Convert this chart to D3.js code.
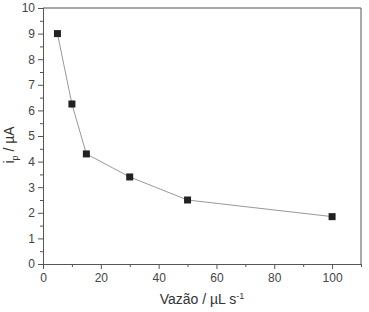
<!DOCTYPE html>
<html>
<head>
<meta charset="utf-8">
<script src="https://cdn.jsdelivr.net/npm/d3@7/dist/d3.min.js"></script>
<style>
  body { margin: 0; background: #fff; }
  text { font-family: "Liberation Sans", Arial, sans-serif; }
</style>
</head>
<body>
<div id="chart"></div>
<script>
/** Data */
const flow = [5, 10, 15, 30, 50, 100];
const current = [9.0, 6.25, 4.3, 3.4, 2.5, 1.85];
const errors = [0.05, 0.15, 0.1, 0.05, 0.05, 0.05];
const xTicks = [0, 20, 40, 60, 80, 100];
const yTicks = [0, 1, 2, 3, 4, 5, 6, 7, 8, 9, 10];

/** Graph configs */
const W = 369, H = 312;
const margin = { top: 8, right: 8, bottom: 48, left: 43 };
const width = W - margin.left - margin.right;
const height = H - margin.top - margin.bottom;
const axisColor = "#555";

const svg = d3
  .select("#chart")
  .append("svg")
  .attr("width", W)
  .attr("height", H)
  .append("g")
  .attr("transform", `translate(${margin.left},${margin.top})`);

const x = d3.scaleLinear().domain([0, 110]).range([0, width]);
const y = d3.scaleLinear().domain([0, 10]).range([height, 0]);

/** Frame: top and right borders */
svg.append("path")
  .attr("d", `M0,0H${width}V${height}`)
  .attr("fill", "none")
  .attr("stroke", axisColor)
  .attr("stroke-width", 1);

const styleAxis = (g) => {
  g.select(".domain").attr("stroke", axisColor);
  g.selectAll(".tick line").attr("stroke", axisColor);
  g.selectAll(".tick text").attr("fill", "#444").style("font-size", "12px");
};

/** Minor ticks */
svg.append("g")
  .attr("transform", `translate(0,${height})`)
  .call(d3.axisBottom(x).tickValues(d3.range(10, 110, 20)).tickSize(3).tickFormat(""))
  .call(styleAxis);
svg.append("g")
  .call(d3.axisLeft(y).tickValues(d3.range(0.5, 10, 1)).tickSize(3).tickFormat(""))
  .call(styleAxis);

/** Major axes */
svg.append("g")
  .attr("transform", `translate(0,${height})`)
  .call(d3.axisBottom(x).tickValues(xTicks).tickSize(5).tickSizeOuter(0).tickPadding(4))
  .call(styleAxis);
svg.append("g")
  .call(d3.axisLeft(y).tickValues(yTicks).tickSize(5).tickSizeOuter(0).tickPadding(3))
  .call(styleAxis);

/** Axis titles */
const xLabel = svg.append("text")
  .attr("x", x(55))
  .attr("y", height + 40)
  .attr("text-anchor", "middle")
  .attr("fill", "#333")
  .style("font-size", "14px");
xLabel.append("tspan").text("Vazão / µL s");
xLabel.append("tspan").attr("dy", -5).style("font-size", "9px").text("-1");

const yLabel = svg.append("text")
  .attr("transform", `translate(${-29},${y(4.65)}) rotate(-90)`)
  .attr("text-anchor", "middle")
  .attr("fill", "#333")
  .style("font-size", "14px");
yLabel.append("tspan").text("i");
yLabel.append("tspan").attr("dy", 4).style("font-size", "9px").text("p");
yLabel.append("tspan").attr("dy", -4).text(" / µA");

/** Data */
const data = flow.map((f, i) => ({ f, v: current[i], e: errors[i] }));

svg.append("path")
  .datum(data)
  .attr("fill", "none")
  .attr("stroke", "#999")
  .attr("stroke-width", 1)
  .attr("d", d3.line().x((d) => x(d.f)).y((d) => y(d.v)));

svg.append("g")
  .selectAll("line")
  .data(data)
  .enter()
  .append("line")
  .attr("x1", (d) => x(d.f))
  .attr("x2", (d) => x(d.f))
  .attr("y1", (d) => y(d.v - d.e))
  .attr("y2", (d) => y(d.v + d.e))
  .attr("stroke", "#888");

const s = 7;
svg.append("g")
  .selectAll("rect")
  .data(data)
  .enter()
  .append("rect")
  .attr("x", (d) => x(d.f) - s / 2)
  .attr("y", (d) => y(d.v) - s / 2)
  .attr("width", s)
  .attr("height", s)
  .attr("fill", "#222");
</script>
</body>
</html>
